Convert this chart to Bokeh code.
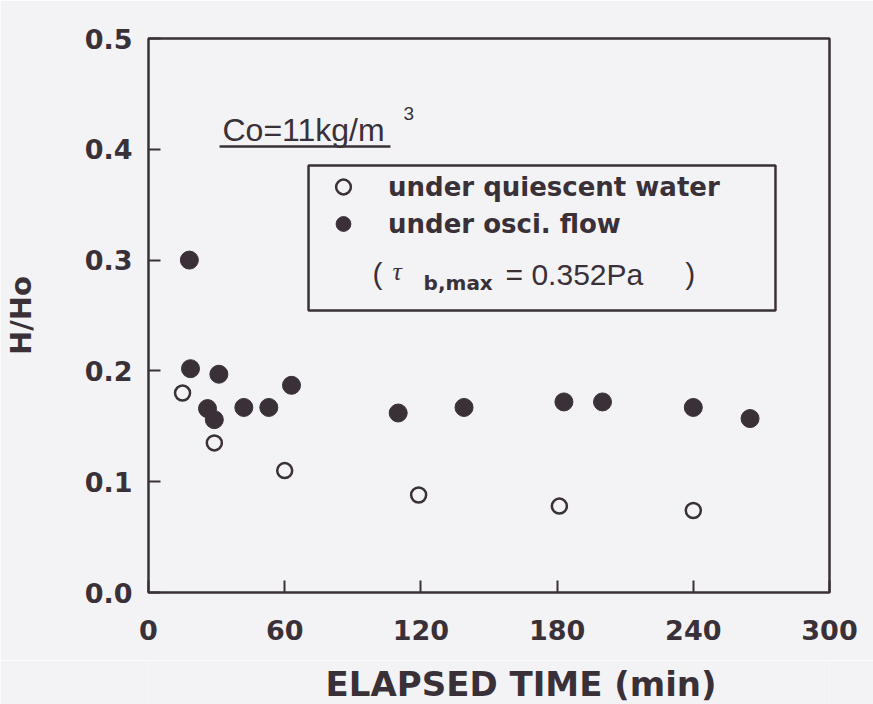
from bokeh.plotting import figure
from bokeh.layouts import column
from bokeh.models import (FixedTicker, Legend, LegendItem, Label, BoxAnnotation,
                          PrintfTickFormatter)
from bokeh.embed import file_html
from bokeh.resources import INLINE

# ---- data ----
quiescent_time = [15, 29, 60, 119, 181, 240]
quiescent_ratio = [0.180, 0.135, 0.110, 0.088, 0.078, 0.074]
osci_time = [18, 18.5, 26, 29, 31, 42, 53, 63, 110, 139, 183, 200, 240, 265]
osci_ratio = [0.300, 0.202, 0.166, 0.156, 0.197, 0.167, 0.167, 0.187,
              0.162, 0.167, 0.172, 0.172, 0.167, 0.157]
x_ticks = [0, 60, 120, 180, 240, 300]
y_ticks = [0.0, 0.1, 0.2, 0.3, 0.4, 0.5]

DARK = "#3a3038"
BG = "#f3f3f5"

p = figure(width=873, height=660, x_range=(0, 300), y_range=(0, 0.5),
           output_backend="svg", toolbar_location=None,
           min_border_left=148, min_border_right=44,
           min_border_top=38, min_border_bottom=68)
p.background_fill_color = BG
p.border_fill_color = BG
p.outline_line_color = DARK
p.outline_line_width = 2.5
p.xgrid.visible = False
p.ygrid.visible = False

for ax in (p.xaxis, p.yaxis):
    ax.axis_line_color = None
    ax.major_tick_in = 12
    ax.major_tick_out = 0
    ax.major_tick_line_color = DARK
    ax.major_tick_line_width = 2
    ax.minor_tick_line_color = None
    ax.major_label_text_font = "DejaVu Sans"
    ax.major_label_text_font_style = "bold"
    ax.major_label_text_color = DARK

p.xaxis.ticker = FixedTicker(ticks=x_ticks)
p.xaxis.formatter = PrintfTickFormatter(format="%d")
p.xaxis.major_label_text_font_size = "27px"
p.xaxis.major_label_standoff = 27

p.yaxis.ticker = FixedTicker(ticks=y_ticks)
p.yaxis.formatter = PrintfTickFormatter(format="%.1f")
p.yaxis.major_label_text_font_size = "27px"
p.yaxis.major_label_standoff = 16
p.yaxis.axis_label = "H/Ho"
p.yaxis.axis_label_text_font = "DejaVu Sans"
p.yaxis.axis_label_text_font_style = "bold"
p.yaxis.axis_label_text_font_size = "29px"
p.yaxis.axis_label_text_color = DARK
p.yaxis.axis_label_standoff = 44

r_open = p.scatter(quiescent_time, quiescent_ratio, marker="circle", size=15,
                   fill_color=BG, line_color=DARK, line_width=2.5)
r_fill = p.scatter(osci_time, osci_ratio, marker="circle", size=18,
                   fill_color=DARK, line_color=DARK, line_width=1)

legend = Legend(items=[LegendItem(label="under quiescent water", renderers=[r_open]),
                       LegendItem(label="under osci. flow", renderers=[r_fill])],
                location=(174, 350), padding=0, margin=0, spacing=0,
                glyph_width=42, glyph_height=37, label_height=37,
                label_standoff=24, border_line_color=None,
                background_fill_alpha=0,
                label_text_font="DejaVu Sans", label_text_font_style="bold",
                label_text_font_size="26px", label_text_color=DARK)
p.add_layout(legend)

# legend frame
p.add_layout(BoxAnnotation(left=70.5, right=276.2, bottom=0.2545, top=0.3854,
                           fill_alpha=0, line_color=DARK, line_alpha=1,
                           line_width=2.5))

def lab(fig, x, y, text, font="Liberation Sans", size="30px", style="normal"):
    fig.add_layout(Label(x=x, y=y, text=text, text_font=font, text_font_size=size,
                         text_font_style=style, text_color=DARK,
                         text_baseline="alphabetic", text_align="left"))

# tau line
lab(p, 98.7, 0.288, "(")
lab(p, 107.5, 0.290, "τ", font="Liberation Serif", size="26px", style="italic")
lab(p, 121.2, 0.279, "b,max", font="DejaVu Sans", size="20px", style="bold")
lab(p, 157.3, 0.287, "= 0.352Pa")
lab(p, 236.5, 0.288, ")")

# concentration note
lab(p, 32.6, 0.417, "Co=11kg/m", size="32px")
lab(p, 112.3, 0.432, "3", size="19px")
p.add_layout(BoxAnnotation(left=31.3, right=106.6, bottom=0.4015, top=0.4037,
                           fill_color=DARK, fill_alpha=1, line_alpha=0))

# strip below holding the x-axis title (placed right of centre as in the original)
p2 = figure(width=873, height=44, x_range=(0, 300), y_range=(0, 44),
            output_backend="svg", toolbar_location=None,
            x_axis_type=None, y_axis_type=None, min_border=0)
p2.background_fill_color = BG
p2.border_fill_color = BG
p2.outline_line_color = None
p2.xgrid.visible = False
p2.ygrid.visible = False
lab(p2, 78.0, 21, "ELAPSED TIME (min)", font="DejaVu Sans", size="34px",
    style="bold")

layout = column(p, p2, spacing=0)
open("out.html", "w").write(file_html(layout, INLINE))
